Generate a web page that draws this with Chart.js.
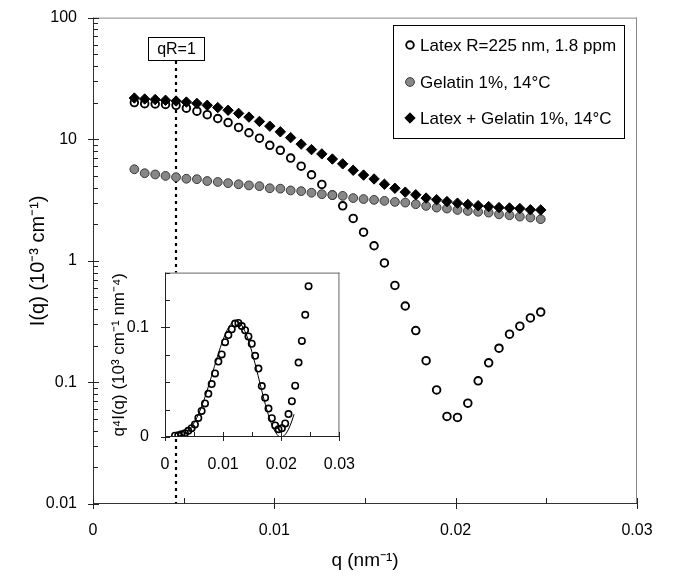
<!DOCTYPE html>
<html><head><meta charset="utf-8">
<script src="https://cdn.jsdelivr.net/npm/chart.js@4"></script>
<style>
html,body{margin:0;padding:0;background:#fff;}
#wrap{position:relative;width:680px;height:580px;overflow:hidden;}
#main{position:absolute;left:0;top:0;}
#inset{position:absolute;left:100px;top:255px;}
</style></head>
<body><div id="wrap"><canvas id="main" width="680" height="580"></canvas><canvas id="inset" width="265" height="220"></canvas></div>
<script>
// ---------------- data ----------------
const q = [0.00228,0.00285,0.00343,0.00400,0.00458,0.00515,0.00573,0.00630,0.00688,0.00745,
           0.00803,0.00860,0.00918,0.00975,0.01033,0.01090,0.01148,0.01205,0.01262,0.01320,
           0.01377,0.01435,0.01492,0.01550,0.01607,0.01665,0.01722,0.01780,0.01837,0.01895,
           0.01952,0.02010,0.02067,0.02124,0.02182,0.02239,0.02297,0.02354,0.02412,0.02469];
const latex = [20.0,19.6,19.5,19.3,19.0,18.0,17.0,15.9,14.8,13.7,
               12.5,11.3,10.2,8.9,8.1,7.0,6.0,5.1,4.25,3.47,
               2.83,2.23,1.72,1.33,0.96,0.627,0.425,0.267,0.151,0.0867,
               0.0525,0.0515,0.0675,0.103,0.145,0.191,0.249,0.290,0.339,0.379];
const gelatin = [5.66,5.25,5.13,4.99,4.87,4.73,4.69,4.53,4.45,4.35,
                 4.26,4.17,4.11,3.95,3.92,3.79,3.74,3.63,3.53,3.47,
                 3.42,3.28,3.22,3.17,3.11,3.05,3.01,2.92,2.83,2.74,
                 2.69,2.62,2.57,2.53,2.49,2.41,2.37,2.31,2.27,2.20];
const latexGelatin = [21.8,21.4,21.2,20.9,20.6,20.2,19.7,19.0,18.2,17.3,
                      16.3,15.2,14.0,12.8,11.5,10.3,9.11,8.21,7.57,6.87,
                      6.27,5.55,5.07,4.71,4.26,3.95,3.67,3.49,3.28,3.18,
                      3.07,2.98,2.91,2.84,2.79,2.74,2.72,2.69,2.63,2.62];
const seriesNames = ['Latex R=225 nm, 1.8 ppm','Gelatin 1%, 14°C','Latex + Gelatin 1%, 14°C'];
const qR1 = 0.00458;
const qR1Label = 'qR=1';
const xTickLabels = ['0','0.01','0.02','0.03'];
const yDecades = [0.01,0.1,1,10,100];
const yTickLabels = ['0.01','0.1','1','10','100'];
const xTitle = 'q (nm⁻¹)';
const yTitle = 'I(q) (10⁻³ cm⁻¹)';

// inset: q^4 I(q)
const insetQ = [0.00171].concat(q);
const insetQ4I = [0.0012,0.0015,0.0024,0.0035,0.0056,0.0080,0.0115,0.0174,0.0238,0.0306,
                  0.0394,0.0483,0.0580,0.0688,0.0753,0.0865,0.0930,0.0983,0.1036,0.1041,
                  0.1012,0.0974,0.0918,0.0851,0.0741,0.0624,0.0465,0.0359,0.0259,0.0171,
                  0.0106,0.0071,0.0080,0.0124,0.0209,0.0326,0.0468,0.0679,0.0877,0.1115,0.1376];
const fitQ   = [0.0020,0.0030,0.0040,0.0050,0.0060,0.0070,0.0080,0.0090,0.0100,0.0110,0.0120,
                0.0130,0.0140,0.0150,0.0160,0.0170,0.0175,0.0180,0.0185,0.0190,0.0195,0.0200,
                0.0205,0.0210,0.0215,0.0220,0.0222];
const fitQ4I = [0.0004,0.0020,0.0058,0.0129,0.0238,0.0383,0.0554,0.0731,0.0890,0.1006,0.1059,
                0.1034,0.0933,0.0767,0.0562,0.0348,0.0252,0.0166,0.0095,0.0044,0.0010,0.0000,
                0.0013,0.0047,0.0102,0.0175,0.0208];
const insetXTickLabels = ['0','0.01','0.02','0.03'];
const insetYTickLabels = {0:'0', 0.1:'0.1'};
const insetYTitle = 'q⁴I(q) (10³ cm⁻¹ nm⁻⁴)';

// ---------------- helpers ----------------
const FONT = '"Liberation Sans", Arial, Helvetica, sans-serif';
Chart.defaults.font.family = FONT;
Chart.defaults.color = '#000';
const pts = (xs, ys) => xs.map((x, i) => ({x, y: ys[i]}));
const isMult = (v, step) => Math.abs(v / step - Math.round(v / step)) < 1e-6;

function tick(ctx, x1, y1, x2, y2){ ctx.beginPath(); ctx.moveTo(x1,y1); ctx.lineTo(x2,y2); ctx.stroke(); }

function drawFrame(chart, axisColor, frameColor){
  const {ctx, chartArea:a} = chart;
  ctx.save();
  ctx.lineWidth = 1;
  ctx.strokeStyle = frameColor;
  tick(ctx, a.left, a.top+0.5, a.right, a.top+0.5);
  tick(ctx, a.right-0.5, a.top, a.right-0.5, a.bottom);
  ctx.strokeStyle = axisColor;
  tick(ctx, a.left+0.5, a.top, a.left+0.5, a.bottom+0.5);
  tick(ctx, a.left, a.bottom-0.5, a.right, a.bottom-0.5);
  ctx.restore();
}

// ---------------- main chart ----------------
const mainDecor = {
  id: 'mainDecor',
  beforeDatasetsDraw(chart){
    const {ctx, chartArea:a, scales:{x}} = chart;
    const px = Math.round(x.getPixelForValue(qR1));
    ctx.save();
    ctx.strokeStyle = '#000'; ctx.lineWidth = 2.2; ctx.setLineDash([3,4]);
    tick(ctx, px, 61, px, a.bottom);
    ctx.restore();
  },
  afterDraw(chart){
    const {ctx, chartArea:a, scales:{x, y}} = chart;
    drawFrame(chart, '#333', '#888');
    ctx.save();
    ctx.strokeStyle = '#222'; ctx.lineWidth = 1;
    for (let k = 0; k <= 6; k++){
      const v = k * 0.005, p = Math.round(x.getPixelForValue(v)) + 0.5;
      if (k % 2 === 0) tick(ctx, p, a.bottom + 5, p, a.bottom - 6);
      else tick(ctx, p, a.bottom, p, a.bottom - 6);
    }
    for (let e = -2; e <= 2; e++){
      for (let m = 1; m <= 9; m++){
        const v = m * Math.pow(10, e);
        if (v > 100.0001) break;
        const p = Math.round(y.getPixelForValue(v)) + 0.5;
        if (m === 1) tick(ctx, a.left - 5, p, a.left + 6, p);
        else tick(ctx, a.left, p, a.left + 5, p);
      }
    }
    ctx.restore();

    // qR=1 label box
    const px = Math.round(x.getPixelForValue(qR1));
    ctx.save();
    ctx.fillStyle = '#fff'; ctx.strokeStyle = '#000'; ctx.lineWidth = 1;
    ctx.fillRect(px - 28, 37, 57, 24);
    ctx.strokeRect(px - 27.5, 37.5, 56, 23);
    ctx.fillStyle = '#000'; ctx.font = '16px ' + FONT;
    ctx.textAlign = 'center'; ctx.textBaseline = 'middle';
    ctx.fillText(qR1Label, px + 0.5, 49.5);
    ctx.restore();

    // legend
    ctx.save();
    ctx.fillStyle = '#fff'; ctx.fillRect(394, 26, 230, 112);
    ctx.strokeStyle = '#000'; ctx.lineWidth = 1;
    ctx.strokeRect(393.5, 25.5, 231, 113);
    const rows = [45, 82, 118];
    const ds = chart.data.datasets;
    rows.forEach((ry, i) => {
      const d = ds[i];
      ctx.save();
      ctx.fillStyle = d.backgroundColor; ctx.strokeStyle = d.borderColor; ctx.lineWidth = d.borderWidth;
      Chart.helpers.drawPoint(ctx, {pointStyle: d.pointStyle, radius: d.pointRadius, borderWidth: d.borderWidth, rotation: 0}, 410, ry);
      ctx.restore();
      ctx.fillStyle = '#000'; ctx.font = '17px ' + FONT;
      ctx.textAlign = 'left'; ctx.textBaseline = 'middle';
      ctx.fillText(seriesNames[i], 420, ry + 1);
    });
    ctx.restore();
  }
};

new Chart(document.getElementById('main'), {
  type: 'scatter',
  data: {
    datasets: [
      { label: seriesNames[0], data: pts(q, latex), pointStyle: 'circle', pointRadius: 3.8,
        borderWidth: 1.9, borderColor: '#000', backgroundColor: '#fff', order: 3 },
      { label: seriesNames[1], data: pts(q, gelatin), pointStyle: 'circle', pointRadius: 4.4,
        borderWidth: 1, borderColor: '#3a3a3a', backgroundColor: '#878787', order: 2 },
      { label: seriesNames[2], data: pts(q, latexGelatin), pointStyle: 'rectRot', pointRadius: 5.2,
        borderWidth: 1, borderColor: '#000', backgroundColor: '#000', order: 1 }
    ]
  },
  options: {
    responsive: false, animation: false, devicePixelRatio: 1,
    layout: { padding: { left: 0, right: 43, top: 12, bottom: 0 } },
    plugins: { legend: { display: false }, tooltip: { enabled: false } },
    scales: {
      x: {
        type: 'linear', min: 0, max: 0.03,
        grid: { display: false }, border: { display: false },
        ticks: { stepSize: 0.005, autoSkip: false, maxRotation: 0, padding: 9,
                 font: { size: 16 }, color: '#000',
                 callback: v => isMult(v, 0.01) ? xTickLabels[Math.round(v / 0.01)] : '' },
        title: { display: true, text: xTitle, font: { size: 19 }, color: '#000', padding: { top: 0, bottom: 8 } },
        afterFit: s => { s.height = 76; }
      },
      y: {
        type: 'logarithmic', min: 0.01, max: 100,
        grid: { display: false }, border: { display: false },
        ticks: { autoSkip: false, padding: 8, font: { size: 16 }, color: '#000',
                 callback: v => {
                   const l = Math.log10(v);
                   return Math.abs(l - Math.round(l)) < 1e-6 ? yTickLabels[yDecades.findIndex(d => Math.abs(Math.log10(d) - l) < 1e-6)] : '';
                 } },
        title: { display: true, text: yTitle, font: { size: 20 }, color: '#000', padding: { top: 26, bottom: 0 } },
        afterFit: s => { s.width = 93; }
      }
    }
  },
  plugins: [mainDecor]
});

// ---------------- inset chart ----------------
const insetDecor = {
  id: 'insetDecor',
  beforeDraw(chart){
    const {ctx, chartArea:a} = chart;
    ctx.save(); ctx.fillStyle = '#fff';
    ctx.fillRect(a.left, a.top, a.right - a.left, a.bottom - a.top);
    ctx.restore();
  },
  afterDraw(chart){
    const {ctx, chartArea:a, scales:{x, y}} = chart;
    drawFrame(chart, '#222', '#666');
    ctx.save(); ctx.strokeStyle = '#222'; ctx.lineWidth = 1;
    for (let k = 0; k <= 6; k++){
      const p = Math.round(x.getPixelForValue(k * 0.005)) + 0.5;
      if (k % 2 === 0) tick(ctx, p, a.bottom + 4, p, a.bottom - 5);
      else tick(ctx, p, a.bottom, p, a.bottom - 5);
    }
    for (let k = 0; k <= 6; k++){
      const v = k * 0.025, p = Math.round(y.getPixelForValue(v)) + 0.5;
      if (k === 0 || k === 4) tick(ctx, a.left - 4, p, a.left + 5, p);
      else tick(ctx, a.left, p, a.left + 5, p);
    }
    ctx.restore();
  }
};

new Chart(document.getElementById('inset'), {
  type: 'scatter',
  data: {
    datasets: [
      { data: pts(insetQ, insetQ4I), pointStyle: 'circle', pointRadius: 3.2, borderWidth: 1.6,
        borderColor: '#000', backgroundColor: 'rgba(255,255,255,0)', order: 1 },
      { data: pts(fitQ, fitQ4I), showLine: true, pointRadius: 0, borderWidth: 1,
        borderColor: '#000', cubicInterpolationMode: 'monotone', order: 2 }
    ]
  },
  options: {
    responsive: false, animation: false, devicePixelRatio: 1,
    layout: { padding: { left: 0, right: 19, top: 12, bottom: 0 } },
    plugins: { legend: { display: false }, tooltip: { enabled: false } },
    scales: {
      x: {
        type: 'linear', min: 0, max: 0.03,
        grid: { display: false }, border: { display: false },
        ticks: { stepSize: 0.005, autoSkip: false, maxRotation: 0, padding: 10, font: { size: 16 }, color: '#000',
                 callback: v => isMult(v, 0.01) ? insetXTickLabels[Math.round(v / 0.01)] : '' },
        afterFit: s => { s.height = 38; }
      },
      y: {
        type: 'linear', min: 0, max: 0.15,
        grid: { display: false }, border: { display: false },
        ticks: { stepSize: 0.025, autoSkip: false, padding: 8, font: { size: 16 }, color: '#000',
                 callback: v => Math.abs(v) < 1e-9 ? insetYTickLabels[0] : (Math.abs(v - 0.1) < 1e-9 ? insetYTickLabels[0.1] : '') },
        title: { display: true, text: insetYTitle, font: { size: 17 }, color: '#000', padding: { top: 9, bottom: 0 } },
        afterFit: s => { s.width = 65; }
      }
    }
  },
  plugins: [insetDecor]
});
</script>
</body></html>
